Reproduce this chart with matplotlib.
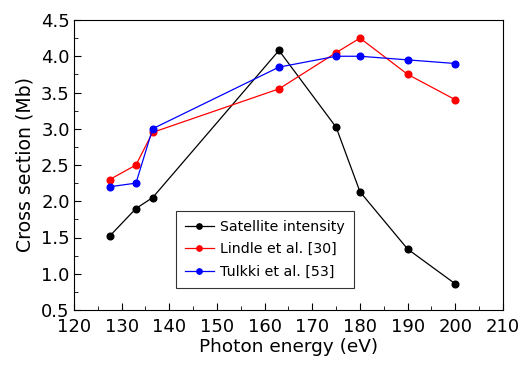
import matplotlib
matplotlib.use("Agg")
import matplotlib.pyplot as plt
from matplotlib.ticker import MultipleLocator

energy = [127.5, 133, 136.5, 163, 175, 180, 190, 200]
satellite = [1.52, 1.90, 2.05, 4.08, 3.02, 2.13, 1.34, 0.86]
lindle = [2.30, 2.50, 2.95, 3.55, 4.05, 4.25, 3.75, 3.40]
tulkki = [2.20, 2.25, 3.00, 3.85, 4.00, 4.00, 3.95, 3.90]

plt.rcParams['font.family'] = 'DejaVu Sans'
fig = plt.figure(figsize=(5.25, 3.74), dpi=100)
ax = fig.add_axes([74/525, 1-310/374, (503-74)/525, (310-20)/374])

ax.plot(energy, satellite, '-o', color='black', lw=0.9, ms=4.8, label='Satellite intensity')
ax.plot(energy, lindle, '-o', color='red', lw=0.9, ms=4.8, label='Lindle et al. [30]')
ax.plot(energy, tulkki, '-o', color='blue', lw=0.9, ms=4.8, label='Tulkki et al. [53]')

ax.set_xlim(120, 210)
ax.set_ylim(0.5, 4.5)
ax.xaxis.set_major_locator(MultipleLocator(10))
ax.xaxis.set_minor_locator(MultipleLocator(5))
ax.yaxis.set_major_locator(MultipleLocator(0.5))
ax.yaxis.set_minor_locator(MultipleLocator(0.25))
ax.tick_params(which='both', direction='in', labelsize=13)
ax.tick_params(which='major', length=5)
ax.tick_params(which='minor', length=3)
ax.tick_params(axis='x', pad=6)
ax.tick_params(axis='y', pad=3)
ax.set_xlabel('Photon energy (eV)', fontsize=13.3, labelpad=1)
ax.set_ylabel('Cross section (Mb)', fontsize=13.6, labelpad=5)

leg = ax.legend(loc='lower left', bbox_to_anchor=((176-74)/429, (310-288)/290),
                fontsize=10.2, frameon=True, fancybox=False, edgecolor='black',
                handlelength=2.0, handletextpad=0.45, borderpad=0.65,
                labelspacing=0.6, markerscale=0.8, borderaxespad=0)
leg.get_frame().set_linewidth(0.8)

fig.savefig('out.png', dpi=100)
